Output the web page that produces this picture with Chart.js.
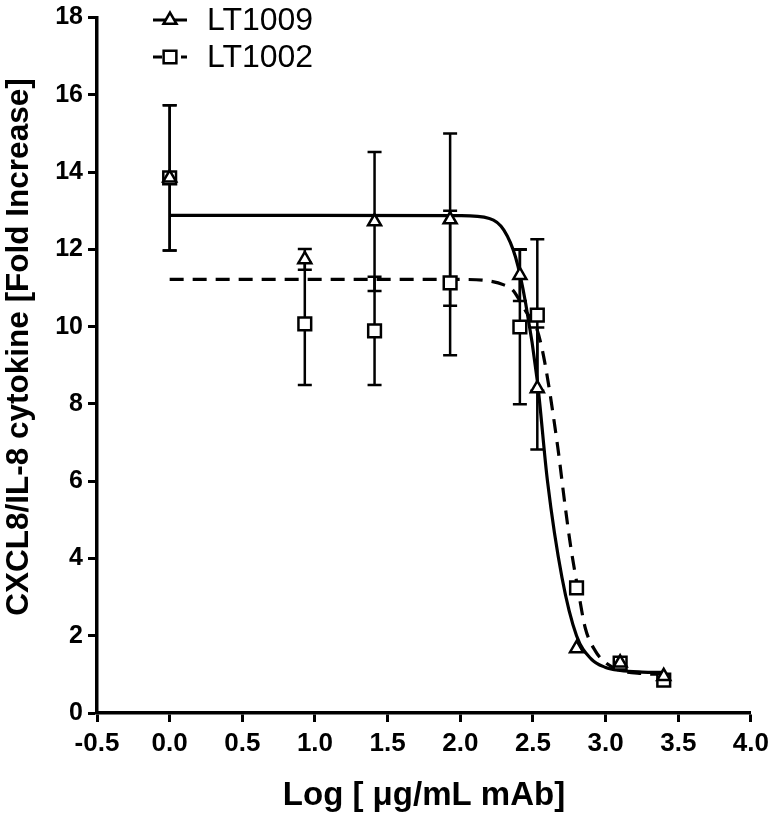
<!DOCTYPE html>
<html>
<head>
<meta charset="utf-8">
<title>CXCL8/IL-8 dose response</title>
<script src="https://cdn.jsdelivr.net/npm/chart.js@4/dist/chart.umd.min.js"></script>
<style>
  html, body { margin: 0; padding: 0; background: #fff; }
  #chart { display: block; }
</style>
</head>
<body>
<canvas id="chart" width="775" height="821"></canvas>
<script>
// DATA
const doseLog = [0, 0.93, 1.41, 1.93, 2.41, 2.53, 2.80, 3.10, 3.40];

const lt1009Mean = [13.85, 11.74, 12.72, 12.77, 11.33, 8.40, 1.67, 1.30, 0.95];
const lt1009Err  = [1.88, 0.27, 1.80, 2.23, 0.67, 1.58, 0, 0, 0];

const lt1002Mean = [13.85, 10.07, 9.89, 11.13, 9.99, 10.30, 3.24, 1.29, 0.85];
const lt1002Err  = [1.88, 1.58, 1.40, 1.87, 2.00, 1.96, 0, 0, 0];

// fitted curves
const fit1009X = [0, 1.0, 2.0, 2.2, 2.3, 2.38, 2.45, 2.53, 2.6, 2.7, 2.8, 2.9, 3.0, 3.1, 3.25, 3.4];
const fit1009Y = [12.88, 12.88, 12.87, 12.8, 12.5, 11.8, 10.6, 8.6, 6.0, 3.5, 2.0, 1.4, 1.18, 1.1, 1.06, 1.05];

const fit1002X = [0, 1.0, 2.0, 2.2, 2.3, 2.36, 2.45, 2.53, 2.58, 2.67, 2.72, 2.76, 2.81, 2.86, 2.93, 3.0, 3.1, 3.25, 3.4];
const fit1002Y = [11.22, 11.22, 11.22, 11.18, 11.08, 10.95, 10.4, 9.9, 9.1, 6.9, 5.4, 4.3, 3.2, 2.2, 1.6, 1.3, 1.1, 1.02, 1.0];

const xTickValues = [-0.5, 0, 0.5, 1.0, 1.5, 2.0, 2.5, 3.0, 3.5, 4.0];
const yTickValues = [0, 2, 4, 6, 8, 10, 12, 14, 16, 18];

const yTitle = 'CXCL8/IL-8 cytokine [Fold Increase]';

const FONT = "'Liberation Sans', Arial, Helvetica, sans-serif";

function toPoints(xs, ys) {
    return xs.map((x, i) => ({ x: x, y: ys[i] }));
}

// ERROR BARS - drawn under the markers
const errorBars = {
    id: 'errorBars',
    beforeDatasetsDraw(chart) {
        const ctx = chart.ctx;
        const xs = chart.scales.x;
        const ys = chart.scales.y;
        ctx.save();
        ctx.strokeStyle = '#000';
        ctx.lineWidth = 2.5;
        chart.data.datasets.forEach(ds => {
            if (!ds.errors) return;
            ds.data.forEach((p, i) => {
                const e = ds.errors[i];
                if (!e) return;
                const px = xs.getPixelForValue(p.x);
                const top = ys.getPixelForValue(p.y + e);
                const bot = ys.getPixelForValue(p.y - e);
                ctx.beginPath();
                ctx.moveTo(px, top);
                ctx.lineTo(px, bot);
                ctx.moveTo(px - 7, top);
                ctx.lineTo(px + 7, top);
                ctx.moveTo(px - 7, bot);
                ctx.lineTo(px + 7, bot);
                ctx.stroke();
            });
        });
        ctx.restore();
    }
};

// LEGEND - line sample with marker, like the original figure
// also the y title, which sits a little above the plot centre in the original
const lineLegend = {
    id: 'lineLegend',
    afterDraw(chart) {
        const ctx = chart.ctx;
        const rows = [
            { label: 'LT1009', dash: [], style: 'triangle', radius: 7.5, y: 20 },
            { label: 'LT1002', dash: [9, 5], style: 'rect', radius: 9, y: 57 }
        ];
        ctx.save();
        rows.forEach(r => {
            ctx.strokeStyle = '#000';
            ctx.lineWidth = 3;
            ctx.setLineDash(r.dash);
            ctx.beginPath();
            ctx.moveTo(153, r.y);
            ctx.lineTo(187, r.y);
            ctx.stroke();
            ctx.setLineDash([]);
            ctx.fillStyle = '#fff';
            ctx.lineWidth = 2.5;
            Chart.helpers.drawPoint(ctx, { pointStyle: r.style, rotation: 0, radius: r.radius, borderWidth: 2.5 }, 170, r.y);
            ctx.fillStyle = '#000';
            ctx.font = '32px ' + FONT;
            ctx.textBaseline = 'middle';
            ctx.textAlign = 'left';
            ctx.fillText(r.label, 207, r.y + 1);
        });

        // y axis title
        ctx.translate(19, 347);
        ctx.rotate(-Math.PI / 2);
        ctx.font = 'bold 31.5px ' + FONT;
        ctx.textAlign = 'center';
        ctx.textBaseline = 'middle';
        ctx.fillStyle = '#000';
        ctx.fillText(yTitle, 0, 0);
        ctx.restore();
    }
};

const ctx = document.getElementById('chart').getContext('2d');
const chart = new Chart(ctx, {
    type: 'scatter',
    data: {
        datasets: [
            {
                label: 'LT1009',
                data: toPoints(doseLog, lt1009Mean),
                errors: lt1009Err,
                pointStyle: 'triangle',
                pointRadius: 7.5,
                pointBackgroundColor: '#fff',
                pointBorderColor: '#000',
                pointBorderWidth: 2.5,
                showLine: false,
                order: 1
            },
            {
                label: 'LT1002',
                data: toPoints(doseLog, lt1002Mean),
                errors: lt1002Err,
                pointStyle: 'rect',
                pointRadius: 9,
                pointBackgroundColor: '#fff',
                pointBorderColor: '#000',
                pointBorderWidth: 2.5,
                showLine: false,
                order: 2
            },
            {
                label: 'LT1009 fit',
                data: toPoints(fit1009X, fit1009Y),
                showLine: true,
                pointRadius: 0,
                borderColor: '#000',
                borderWidth: 3.2,
                cubicInterpolationMode: 'monotone',
                order: 3
            },
            {
                label: 'LT1002 fit',
                data: toPoints(fit1002X, fit1002Y),
                showLine: true,
                pointRadius: 0,
                borderColor: '#000',
                borderWidth: 3.2,
                borderDash: [14, 9],
                cubicInterpolationMode: 'monotone',
                order: 4
            }
        ]
    },
    options: {
        responsive: false,
        animation: false,
        layout: { padding: { top: 14, right: 21, bottom: 0, left: 0 } },
        plugins: {
            legend: { display: false },
            tooltip: { enabled: false }
        },
        scales: {
            x: {
                type: 'linear',
                min: -0.5,
                max: 4.0,
                afterBuildTicks: s => { s.ticks = xTickValues.map(v => ({ value: v })); },
                afterFit: s => { s.height = 108; },
                ticks: {
                    color: '#000',
                    font: { family: FONT, size: 26, weight: 'bold' },
                    padding: 6,
                    maxRotation: 0,
                    autoSkip: false,
                    callback: v => v.toFixed(1)
                },
                grid: { drawOnChartArea: false, tickLength: 9, tickWidth: 3, tickColor: '#000' },
                border: { display: true, width: 3.5, color: '#000' },
                title: {
                    display: true,
                    text: 'Log [ \u03bcg/mL mAb]',
                    color: '#000',
                    font: { family: FONT, size: 33, weight: 'bold' },
                    padding: { top: 0, bottom: 5 }
                }
            },
            y: {
                min: 0,
                max: 18,
                afterBuildTicks: s => { s.ticks = yTickValues.map(v => ({ value: v })); },
                afterFit: s => { s.width = 97; },
                ticks: {
                    color: '#000',
                    font: { family: FONT, size: 25, weight: 'bold', lineHeight: 1 },
                    padding: 5
                },
                grid: { drawOnChartArea: false, tickLength: 9, tickWidth: 3, tickColor: '#000' },
                border: { display: true, width: 3.5, color: '#000' },
                title: { display: false }
            }
        }
    },
    plugins: [errorBars, lineLegend]
});
</script>
</body>
</html>
